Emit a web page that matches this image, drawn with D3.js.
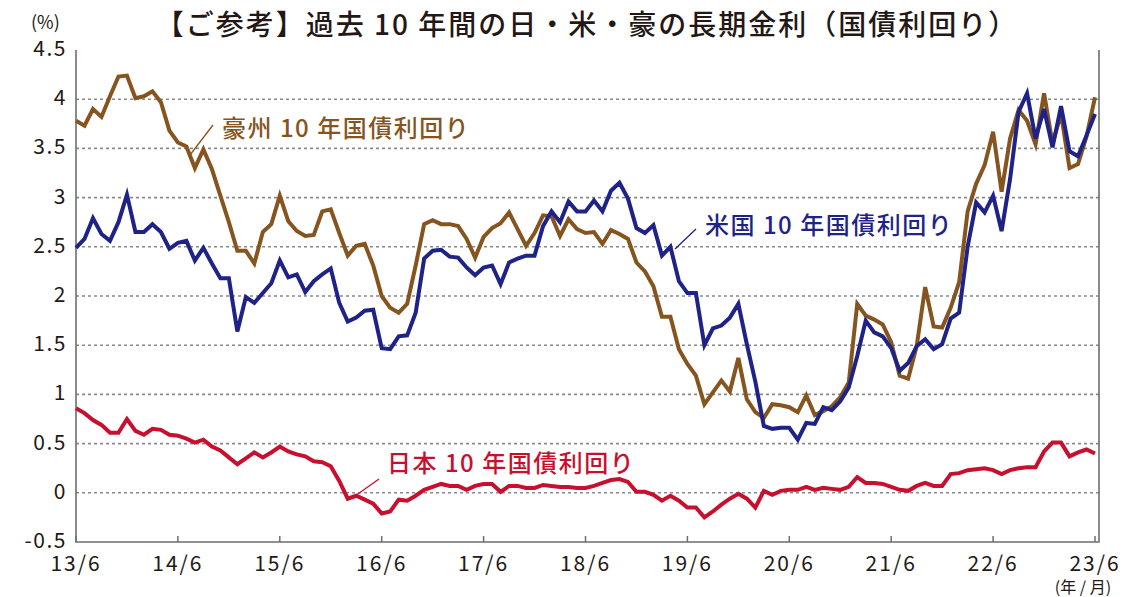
<!DOCTYPE html>
<html>
<head>
<meta charset="utf-8">
<script src="https://cdn.jsdelivr.net/npm/d3@7/dist/d3.min.js"></script>
<style>
  body { margin: 0; background: #fff; }
  svg text { font-family: "Noto Sans CJK JP", "Noto Sans", sans-serif; fill: #231815; }
</style>
</head>
<body>
<div id="chart"></div>
<script>
// monthly yields, 2013/6 .. 2023/6 (121 points)
var australia = [
  3.78, 3.73, 3.90, 3.82, 4.03, 4.23, 4.24, 4.01, 4.03, 4.08, 3.97, 3.68,
  3.56, 3.52, 3.30, 3.49, 3.29, 3.02, 2.75, 2.46, 2.46, 2.33, 2.65, 2.73,
  3.02, 2.76, 2.66, 2.61, 2.62, 2.86, 2.88, 2.64, 2.41, 2.51, 2.53, 2.31,
  2.00, 1.88, 1.83, 1.92, 2.31, 2.73, 2.77, 2.73, 2.73, 2.71, 2.58, 2.39,
  2.60, 2.69, 2.74, 2.85, 2.68, 2.51, 2.64, 2.82, 2.81, 2.61, 2.78, 2.68,
  2.64, 2.65, 2.53, 2.67, 2.63, 2.58, 2.34, 2.25, 2.10, 1.79, 1.79, 1.46,
  1.31, 1.19, 0.90, 1.02, 1.14, 1.03, 1.37, 0.95, 0.82, 0.76, 0.90, 0.89,
  0.87, 0.82, 0.99, 0.79, 0.83, 0.88, 0.97, 1.12, 1.92, 1.80, 1.76, 1.71,
  1.53, 1.19, 1.16, 1.49, 2.09, 1.69, 1.68, 1.88, 2.14, 2.86, 3.14, 3.33,
  3.67, 3.06, 3.60, 3.89, 3.78, 3.54, 4.06, 3.55, 3.85, 3.30, 3.34, 3.62,
  4.02
];
var usa = [
  2.49, 2.58, 2.79, 2.63, 2.56, 2.75, 3.03, 2.65, 2.65, 2.73, 2.65, 2.48,
  2.54, 2.56, 2.36, 2.49, 2.33, 2.18, 2.18, 1.64, 1.99, 1.93, 2.03, 2.13,
  2.36, 2.19, 2.22, 2.04, 2.15, 2.22, 2.28, 1.93, 1.74, 1.78, 1.85, 1.86,
  1.47, 1.46, 1.59, 1.60, 1.83, 2.38, 2.46, 2.47, 2.40, 2.39, 2.29, 2.21,
  2.29, 2.31, 2.12, 2.34, 2.38, 2.41, 2.41, 2.71, 2.86, 2.75, 2.96, 2.86,
  2.86, 2.97, 2.86, 3.07, 3.15, 2.99, 2.69, 2.64, 2.72, 2.41, 2.50, 2.15,
  2.03, 2.03, 1.50, 1.67, 1.70, 1.78, 1.92, 1.51, 1.13, 0.68, 0.65, 0.66,
  0.66, 0.54, 0.71, 0.70, 0.87, 0.84, 0.93, 1.07, 1.39, 1.75, 1.63, 1.59,
  1.47, 1.24, 1.32, 1.49, 1.56, 1.46, 1.51, 1.77, 1.83, 2.50, 2.95, 2.85,
  3.02, 2.66, 3.19, 3.87, 4.06, 3.60, 3.90, 3.51, 3.93, 3.47, 3.42, 3.63,
  3.85
];
var japan = [
  0.86, 0.81, 0.74, 0.69, 0.61, 0.61, 0.75, 0.63, 0.59, 0.65, 0.64, 0.59,
  0.58, 0.55, 0.51, 0.54, 0.47, 0.43, 0.36, 0.29, 0.35, 0.41, 0.36, 0.41,
  0.47, 0.42, 0.39, 0.37, 0.32, 0.31, 0.27, 0.12, -0.06, -0.03, -0.07, -0.11,
  -0.21, -0.19, -0.07, -0.08, -0.03, 0.03, 0.06, 0.09, 0.07, 0.07, 0.03, 0.07,
  0.09, 0.09, 0.01, 0.07, 0.07, 0.05, 0.05, 0.08, 0.07, 0.06, 0.06, 0.05,
  0.05, 0.07, 0.10, 0.13, 0.14, 0.11, 0.01, 0.01, -0.02, -0.08, -0.03, -0.08,
  -0.15, -0.15, -0.25, -0.19, -0.12, -0.06, -0.01, -0.06, -0.15, 0.02, -0.02, 0.02,
  0.03, 0.03, 0.06, 0.03, 0.05, 0.04, 0.03, 0.06, 0.16, 0.10, 0.10, 0.09,
  0.06, 0.03, 0.02, 0.07, 0.10, 0.07, 0.07, 0.19, 0.20, 0.23, 0.24, 0.25,
  0.23, 0.19, 0.23, 0.25, 0.26, 0.26, 0.42, 0.51, 0.51, 0.37, 0.41, 0.44,
  0.40
];
var xTickLabels = ["13/6", "14/6", "15/6", "16/6", "17/6", "18/6", "19/6", "20/6", "21/6", "22/6", "23/6"];
var yTicks = [-0.5, 0, 0.5, 1, 1.5, 2, 2.5, 3, 3.5, 4, 4.5];

function drawChart() {
  var width = 1148, height = 597;
  var pLeft = 76, pRight = 1099, pTop = 50, pBottom = 542;

  var svg = d3.select("#chart").append("svg")
    .attr("width", width)
    .attr("height", height);

  var x = d3.scaleLinear().domain([0, 120]).range([pLeft, 1095]);
  var y = d3.scaleLinear().domain([-0.5, 4.5]).range([pBottom, pTop]);

  // title
  svg.append("text")
    .attr("x", 587)
    .attr("y", 35)
    .attr("text-anchor", "middle")
    .style("font-size", "28px")
    .style("font-weight", 500)
    .style("letter-spacing", "2px")
    .text("【ご参考】過去 10 年間の日・米・豪の長期金利（国債利回り）");

  svg.append("text")
    .attr("x", 31)
    .attr("y", 29)
    .style("font-size", "18px")
    .text("(%)");

  // dotted grid
  svg.append("g").selectAll("line")
    .data(yTicks.filter(function(d) { return d > -0.5 && d < 4.5; }))
    .enter().append("line")
    .attr("x1", pLeft).attr("x2", pRight)
    .attr("y1", function(d) { return y(d); })
    .attr("y2", function(d) { return y(d); })
    .style("stroke", "#8a8a8a")
    .style("stroke-width", 1.6)
    .style("stroke-dasharray", "3,3");

  // y labels
  svg.append("g").selectAll("text")
    .data(yTicks)
    .enter().append("text")
    .attr("x", 67)
    .attr("y", function(d) { return y(d) + 6; })
    .attr("text-anchor", "end")
    .style("font-size", "21px")
    .style("letter-spacing", "1.5px")
    .text(function(d) { return d; });

  // x ticks and labels
  var xTicks = d3.range(0, 121, 12);
  svg.append("g").selectAll("line")
    .data(xTicks)
    .enter().append("line")
    .attr("x1", function(d) { return x(d); })
    .attr("x2", function(d) { return x(d); })
    .attr("y1", pBottom).attr("y2", pBottom - 6)
    .style("stroke", "#6e6e6e")
    .style("stroke-width", 1.5);

  svg.append("g").selectAll("text")
    .data(xTicks)
    .enter().append("text")
    .attr("x", function(d) { return x(d); })
    .attr("y", 571)
    .attr("text-anchor", "middle")
    .style("font-size", "21px")
    .style("letter-spacing", "2px")
    .text(function(d, i) { return xTickLabels[i]; });

  svg.append("text")
    .attr("x", 1083)
    .attr("y", 593)
    .attr("text-anchor", "middle")
    .style("font-size", "16px")
    .text("(年 / 月)");

  // frame
  svg.append("path")
    .attr("d", "M" + pLeft + "," + pTop + "V" + pBottom + "H" + pRight + "V" + pTop)
    .style("fill", "none")
    .style("stroke", "#6e6e6e")
    .style("stroke-width", 1.6);

  var line = d3.line()
    .x(function(d, i) { return x(i); })
    .y(function(d) { return y(d); });

  var series = [
    {values: australia, color: "#86551f"},
    {values: usa, color: "#1f2388"},
    {values: japan, color: "#c8102e"}
  ];

  series.forEach(function(s) {
    svg.append("path")
      .datum(s.values)
      .attr("d", line)
      .style("fill", "none")
      .style("stroke", s.color)
      .style("stroke-width", 4)
      .style("stroke-linejoin", "miter");
  });

  // labels with leader lines
  var labels = [
    {text: "豪州 10 年国債利回り", color: "#86551f", tx: 222, ty: 137, l: [213, 125, 190, 155]},
    {text: "米国 10 年国債利回り", color: "#1f2388", tx: 705, ty: 234, l: [696, 229, 675, 249]},
    {text: "日本 10 年国債利回り", color: "#c8102e", tx: 387, ty: 472, l: [379, 479, 355, 496]}
  ];
  labels.forEach(function(d) {
    svg.append("line")
      .attr("x1", d.l[0]).attr("y1", d.l[1])
      .attr("x2", d.l[2]).attr("y2", d.l[3])
      .style("stroke", d.color)
      .style("stroke-width", 1.3);
    svg.append("text")
      .attr("x", d.tx)
      .attr("y", d.ty)
      .style("font-size", "24px")
      .style("font-weight", 500)
      .style("letter-spacing", "1.5px")
      .style("fill", d.color)
      .text(d.text);
  });
}

drawChart();
</script>
</body>
</html>
